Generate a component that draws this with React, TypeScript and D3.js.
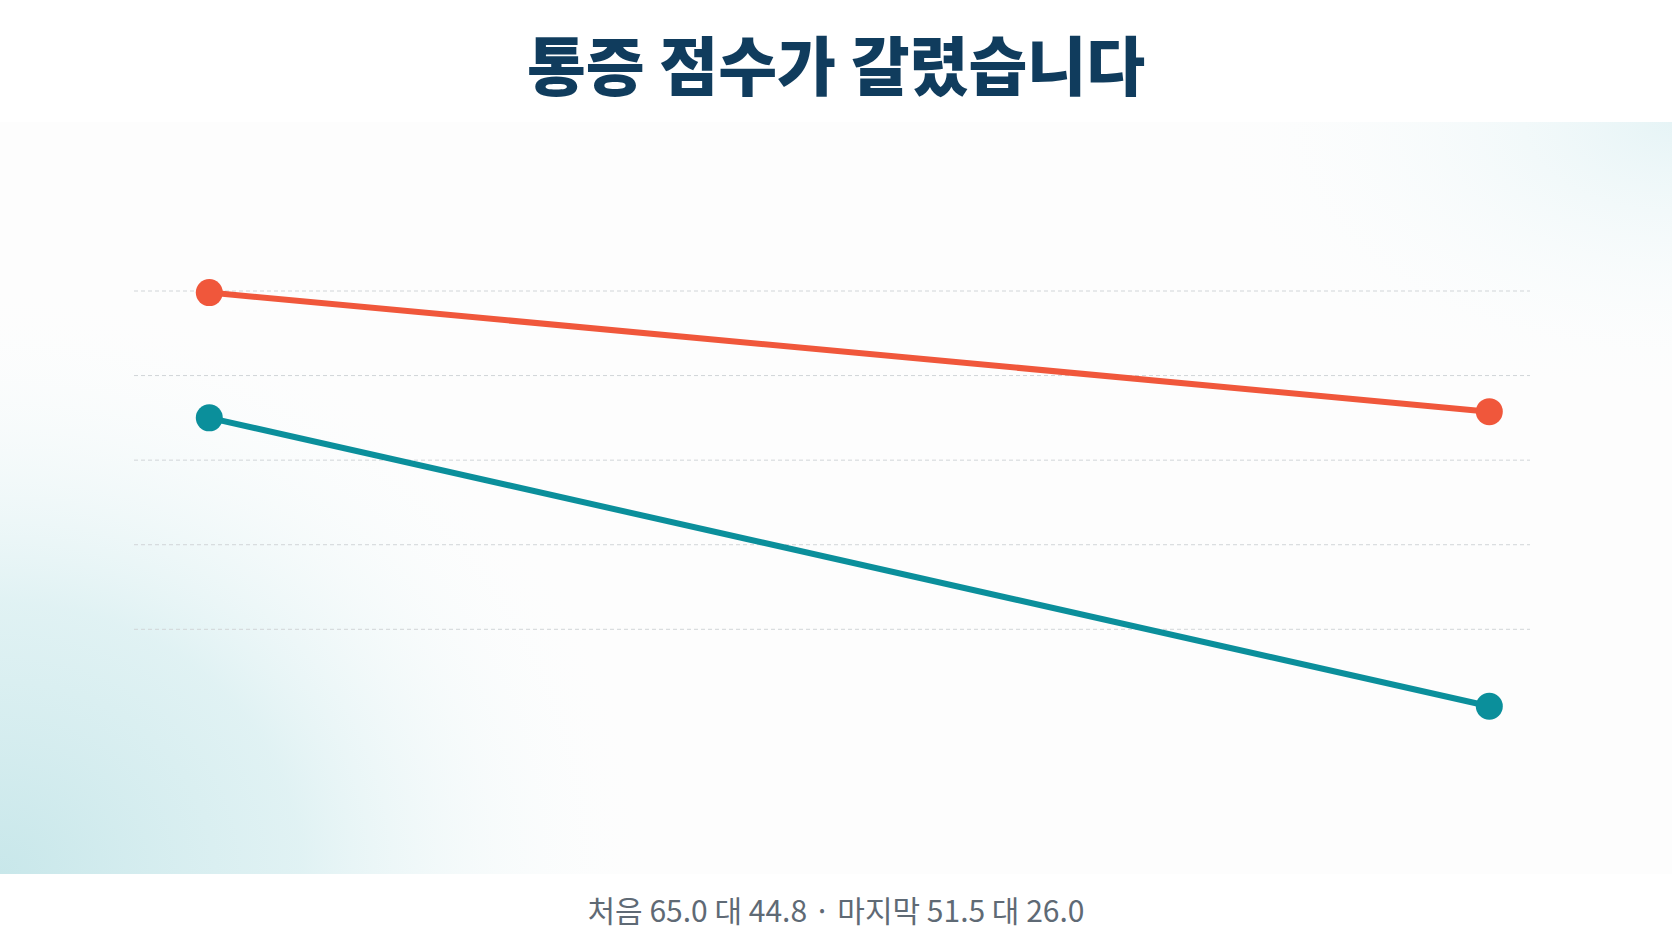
import React from "react";
import * as d3 from "d3";

const W = 1672;
const H = 941;

const stages = ["처음", "마지막"];
const redValues = [65.0, 51.5];
const tealValues = [44.8, 26.0];
const gridLevels = [0, 1, 2, 3, 4];

const TITLE = "통증 점수가 갈렸습니다";
const subtitle = `처음 ${redValues[0].toFixed(1)} 대 ${tealValues[0].toFixed(1)} · 마지막 ${redValues[1].toFixed(1)} 대 ${tealValues[1].toFixed(1)}`;

const RED = "#f0573b";
const TEAL = "#0b8f9b";

export default function App() {
  const plotTop = 200;
  const plotBottom = 760;
  const x = d3.scalePoint<string>().domain(stages).range([209.3, 1489.3]);
  const yRed = d3.scaleLinear().domain([12, 75.5]).range([plotBottom, plotTop]);
  const yTeal = d3.scaleLinear().domain([22.5, 59]).range([plotBottom, plotTop]);
  const yGrid = d3.scaleLinear().domain([0, 4]).range([291, 629.3]);

  const line = (ys: d3.ScaleLinear<number, number>) =>
    d3
      .line<number>()
      .x((_, i) => x(stages[i]) as number)
      .y((d) => ys(d));

  const series = [
    { values: redValues, scale: yRed, color: RED },
    { values: tealValues, scale: yTeal, color: TEAL },
  ];

  return (
    <svg
      width={W}
      height={H}
      viewBox={`0 0 ${W} ${H}`}
      style={{ position: "absolute", left: 0, top: 0, display: "block" }}
    >
      <defs>
        <radialGradient id="bl" cx="0" cy="1" r="1" gradientUnits="objectBoundingBox"
          gradientTransform="translate(0,1) scale(0.4,0.8) translate(0,-1)">
          <stop offset="0%" stopColor="#c8e7ea" stopOpacity="1" />
          <stop offset="45%" stopColor="#d9eff1" stopOpacity="0.8" />
          <stop offset="100%" stopColor="#ffffff" stopOpacity="0" />
        </radialGradient>
        <radialGradient id="tr" cx="1" cy="0" r="1" gradientUnits="objectBoundingBox"
          gradientTransform="translate(1,0) scale(0.3,0.4) translate(-1,0)">
          <stop offset="0%" stopColor="#e6f4f6" stopOpacity="1" />
          <stop offset="100%" stopColor="#ffffff" stopOpacity="0" />
        </radialGradient>
      </defs>
      <rect x={0} y={0} width={W} height={H} fill="#ffffff" />
      <rect x={0} y={122} width={W} height={752} fill="#fdfdfd" />
      <rect x={0} y={122} width={W} height={752} fill="url(#bl)" />
      <rect x={0} y={122} width={W} height={752} fill="url(#tr)" />

      <text
        x={W / 2}
        y={90}
        textAnchor="middle"
        fontFamily="'Noto Sans CJK KR', 'Noto Sans', sans-serif"
        fontWeight={800}
        fontSize={64}
        fill="#103c5d"
      >
        {TITLE}
      </text>

      {gridLevels.map((g) => (
        <line
          key={g}
          x1={134}
          x2={1530}
          y1={yGrid(g)}
          y2={yGrid(g)}
          stroke="#d1d5d8"
          strokeWidth={1}
          strokeDasharray="4 3"
        />
      ))}

      {series.map((s, si) => (
        <g key={si}>
          <path d={line(s.scale)(s.values) || ""} fill="none" stroke={s.color} strokeWidth={6} />
          {s.values.map((v, i) => (
            <circle key={i} cx={x(stages[i]) as number} cy={s.scale(v)} r={13.5} fill={s.color} />
          ))}
        </g>
      ))}

      <text
        x={W / 2}
        y={922}
        textAnchor="middle"
        fontFamily="'Noto Sans CJK KR', 'Noto Sans', sans-serif"
        fontSize={30}
        fill="#5f6a75"
      >
        {subtitle}
      </text>
    </svg>
  );
}
